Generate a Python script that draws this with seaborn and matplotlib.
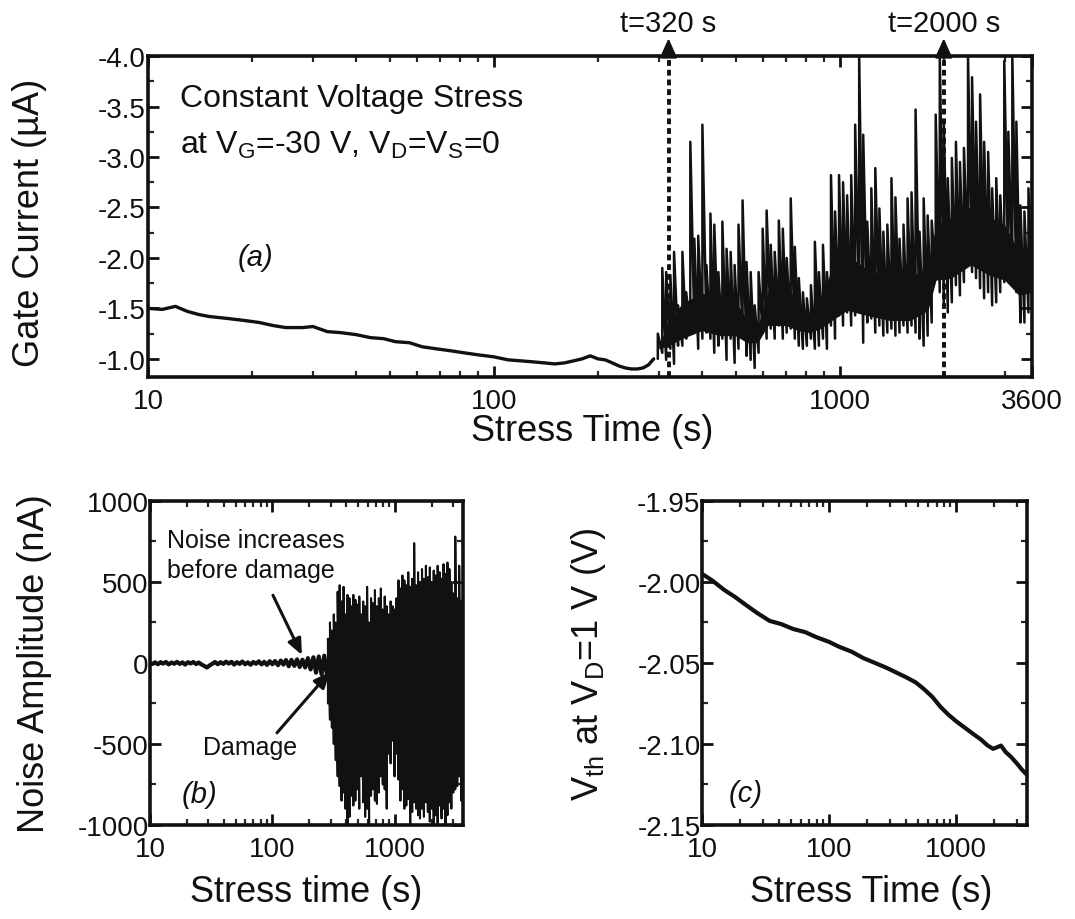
import numpy as np
import pandas as pd
import matplotlib
matplotlib.use("Agg")
import matplotlib.pyplot as plt
import seaborn as sns
from matplotlib.ticker import FixedLocator, LogLocator, NullFormatter, MultipleLocator

# ---------------- data ----------------
# (a) gate current, smooth part before breakdown
a_smooth_t = [10, 11, 12, 13, 14, 15, 17, 19, 21, 23, 25, 28, 30, 33, 36, 40, 44, 48, 52, 57,
              62, 68, 75, 82, 90, 100, 110, 120, 130, 140, 150, 160, 170, 180, 190, 200, 210,
              220, 230, 240, 250, 260, 270, 280, 290]
a_smooth_i = [-1.50, -1.49, -1.52, -1.47, -1.44, -1.42, -1.40, -1.38, -1.36, -1.33, -1.31, -1.31,
              -1.32, -1.27, -1.26, -1.24, -1.21, -1.20, -1.17, -1.16, -1.12, -1.10, -1.08, -1.06,
              -1.04, -1.02, -0.99, -0.98, -0.97, -0.96, -0.95, -0.96, -0.98, -1.00, -1.03, -1.00,
              -0.99, -0.96, -0.93, -0.91, -0.90, -0.90, -0.91, -0.94, -1.00]

# (a) gate current, noisy part: time bins with lower / upper excursion
a_noise_t = [298, 307, 315, 324, 332, 341, 351, 360, 370, 380, 390, 401, 412, 423, 434, 446, 458,
             471, 484, 497, 510, 524, 538, 553, 568, 583, 599, 615, 632, 649, 667, 685, 703, 722,
             742, 762, 783, 804, 826, 848, 871, 895, 919, 944, 970, 996, 1023, 1051, 1080, 1109,
             1139, 1170, 1202, 1235, 1268, 1303, 1338, 1374, 1412, 1450, 1490, 1530, 1572, 1614,
             1658, 1703, 1750, 1797, 1846, 1896, 1948, 2001, 2055, 2111, 2169, 2228, 2288, 2351,
             2415, 2480, 2548, 2617, 2688, 2761, 2837, 2914, 2993, 3075, 3158, 3244, 3333, 3423,
             3516, 3600]
a_noise_high = [-1.25, -1.90, -1.86, -1.83, -2.06, -1.53, -2.06, -1.66, -3.15, -2.19,
                -2.22, -3.32, -1.93, -2.44, -2.33, -1.86, -2.36, -2.09, -2.06, -1.93,
                -2.33, -2.57, -1.96, -1.86, -1.53, -1.86, -2.29, -2.47, -2.13, -2.06,
                -2.37, -2.29, -2.00, -2.59, -2.11, -1.80, -1.66, -1.60, -1.73, -2.16,
                -1.86, -2.13, -1.86, -2.82, -2.46, -2.82, -2.75, -2.62, -2.82, -3.32,
                -4.00, -3.22, -2.36, -2.69, -2.89, -2.49, -2.26, -2.33, -2.79, -2.60,
                -2.19, -2.33, -2.59, -2.65, -3.47, -2.26, -2.59, -2.42, -2.37, -3.42,
                -4.00, -3.35, -2.79, -2.99, -3.15, -2.95, -3.09, -4.00, -3.79, -3.35,
                -3.62, -3.15, -3.05, -2.69, -2.79, -2.62, -3.95, -3.25, -4.00, -3.35,
                -2.52, -2.46, -2.69, -2.79]
a_noise_low = [-1.00, -1.06, -0.99, -1.10, -0.95, -1.13, -1.13, -1.20, -1.26, -1.33,
               -1.10, -1.20, -1.26, -1.20, -1.06, -1.13, -1.20, -0.99, -1.20, -0.96,
               -1.10, -1.26, -1.03, -0.99, -0.91, -1.06, -1.26, -1.20, -1.30, -1.20,
               -1.33, -1.20, -1.26, -1.30, -1.20, -1.13, -1.10, -1.13, -1.20, -1.10,
               -1.13, -1.20, -1.10, -1.33, -1.20, -1.43, -1.33, -1.46, -1.33, -1.43,
               -1.53, -1.16, -1.36, -1.40, -1.26, -1.33, -1.23, -1.26, -1.30, -1.23,
               -1.26, -1.33, -1.26, -1.33, -1.26, -1.20, -1.13, -1.23, -1.36, -1.80,
               -1.66, -1.53, -1.46, -1.56, -1.73, -1.63, -1.76, -1.93, -1.86, -1.80,
               -1.70, -1.60, -1.66, -1.53, -1.56, -1.66, -1.76, -1.80, -1.86, -1.66,
               -1.36, -1.36, -1.46, -1.53]
# (a) dense (solid-looking) core of the noise band
a_core_t = [300, 320, 350, 400, 450, 500, 540, 580, 620, 700, 760, 820, 880, 950, 1050, 1200,
            1400, 1600, 1800, 1900, 2100, 2400, 2700, 3000, 3300, 3600]
a_core_low = [-1.10, -1.13, -1.20, -1.28, -1.23, -1.23, -1.16, -1.16, -1.33, -1.33, -1.28, -1.26,
              -1.30, -1.38, -1.48, -1.43, -1.38, -1.38, -1.48, -1.78, -1.80, -1.93, -1.83, -1.78,
              -1.63, -1.66]
a_core_high = [-1.14, -1.35, -1.55, -1.65, -1.63, -1.57, -1.39, -1.33, -1.67, -1.73, -1.56, -1.43,
               -1.57, -1.90, -2.03, -1.89, -1.81, -1.81, -1.91, -2.33, -2.40, -2.51, -2.41, -2.33,
               -2.06, -2.07]
a_marks_t = [320, 2000]
a_marks_label = ["t=320 s", "t=2000 s"]

# (b) noise amplitude
b_quiet_t = [10, 10.5, 11, 11.6, 12.2, 12.8, 13.5, 14.2, 15, 15.8, 16.6, 17.5, 18.4, 19.4, 20.4,
             21.5, 22.6, 23.8, 25, 26.3, 27.7, 29.2, 30.7, 32.3, 34, 35.8, 37.7, 39.7, 41.8, 44,
             46.3, 48.7, 51.3, 54, 56.8, 59.8, 63, 66.3, 69.8, 73.5, 77.4, 81.5, 85.8, 90.3, 95,
             100, 105, 111, 117, 123, 129, 136, 143, 151, 159, 167, 176, 185, 195, 205, 216, 227,
             239, 252, 265, 279]
b_quiet_v = [0, -6, 4, -8, 5, -4, 6, -9, 3, -5, 7, -6, 4, -10, 5, -3, 6, -7, 3, -9,
             -18, -28, -15, -5, 6, -8, 5, -6, 8, -4, 7, -10, 5, -6, 9, -8, 4, -11, 6, -5,
             10, -9, 7, -12, 11, -8, 12, -14, 15, -10, 18, -20, 19, -18, 22, -25, 20, -28, 30, -40,
             35, -60, 40, -70, 45, -75]
b_noise_t = [284, 295, 306, 317, 329, 341, 354, 367, 381, 395, 410, 426, 442, 458, 476, 493, 512,
             531, 551, 572, 593, 616, 639, 663, 687, 713, 740, 768, 797, 826, 858, 890, 923, 958,
             994, 1031, 1070, 1110, 1152, 1195, 1240, 1286, 1335, 1385, 1437, 1491, 1546, 1604,
             1665, 1727, 1792, 1859, 1929, 2001, 2076, 2154, 2235, 2319, 2406, 2496, 2590, 2687,
             2788, 2892, 3001, 3113, 3230, 3351, 3477, 3600]
b_noise_high = [150, 250, 200, 300, 250, 440, 480, 380, 470, 300,
                420, 400, 350, 420, 390, 360, 410, 300, 380, 350,
                470, 250, 400, 370, 450, 350, 400, 460, 330, 410,
                350, 300, 380, 350, 330, 400, 510, 460, 540, 510,
                480, 560, 470, 520, 740, 480, 560, 500, 580, 520,
                600, 530, 590, 500, 570, 540, 600, 560, 520, 610,
                550, 620, 580, 500, 430, 780, 400, 600, 380, 400]
b_noise_low = [-250, -350, -400, -500, -600, -700, -760, -850, -800, -900,
               -1000, -950, -820, -880, -850, -780, -900, -700, -860, -950,
               -900, -1000, -820, -780, -850, -870, -800, -700, -750, -780,
               -900, -560, -620, -480, -700, -560, -720, -850, -780, -900,
               -880, -840, -1000, -920, -860, -900, -940, -960, -900, -950,
               -860, -920, -980, -900, -1000, -940, -1000, -880, -960, -900,
               -1000, -940, -860, -900, -800, -780, -760, -700, -850, -600]

# (c) threshold voltage
c_t = [10, 12, 15, 18, 22, 27, 34, 42, 52, 65, 79, 100, 120, 150, 186, 230, 283, 340, 408, 480,
       555, 650, 750, 870, 1000, 1170, 1370, 1550, 1770, 1950, 2100, 2250, 2450, 2700, 3000,
       3300, 3600]
c_v = [-1.995, -1.999, -2.005, -2.009, -2.014, -2.019, -2.024, -2.026, -2.029, -2.031, -2.034,
       -2.037, -2.040, -2.043, -2.047, -2.050, -2.053, -2.056, -2.059, -2.062, -2.066, -2.071,
       -2.077, -2.082, -2.086, -2.090, -2.094, -2.097, -2.101, -2.103, -2.102, -2.101, -2.105,
       -2.108, -2.112, -2.116, -2.119]


def zigzag(t, low, high, name):
    """interleave low/high excursions so each bin is drawn as a vertical stroke"""
    tt = np.repeat(np.asarray(t, float), 2)
    vv = np.column_stack([low, high]).ravel()
    return pd.DataFrame({"t": tt, name: vv})


# ---------------- style ----------------
sns.set_theme(style="ticks")
plt.rcParams["font.family"] = ["Liberation Sans", "DejaVu Sans"]
plt.rcParams["mathtext.fontset"] = "custom"
plt.rcParams["mathtext.rm"] = "Liberation Sans"
plt.rcParams["mathtext.it"] = "Liberation Sans:italic"
plt.rcParams["axes.unicode_minus"] = False

INK = "#111111"
TICK = 20
LAB = 26

fig = plt.figure(figsize=(10.75, 9.2), dpi=100)
axA = fig.add_axes([0.1377, 0.5891, 0.8223, 0.3489])
axB = fig.add_axes([0.1395, 0.1022, 0.2912, 0.3522])
axC = fig.add_axes([0.6530, 0.1022, 0.3023, 0.3522])

# ---------------- panel (a) ----------------
sns.lineplot(data=pd.DataFrame({"t": a_smooth_t, "i": a_smooth_i}), x="t", y="i", ax=axA,
             color=INK, lw=2.4, estimator=None, sort=False)
axA.fill_between(a_core_t, a_core_low, a_core_high, color=INK, lw=0)
sns.lineplot(data=zigzag(a_noise_t, a_noise_low, a_noise_high, "i"), x="t", y="i", ax=axA,
             color=INK, lw=1.8, estimator=None, sort=False)
for t, lab in zip(a_marks_t, a_marks_label):
    axA.axvline(t, color=INK, lw=2.8, ls=(0, (1.5, 1.0)), zorder=4)
    axA.annotate("", xy=(t, 1.055), xytext=(t, 1.0), xycoords=("data", "axes fraction"),
                 annotation_clip=False,
                 arrowprops=dict(arrowstyle="-|>,head_length=1.0,head_width=0.45",
                                 color=INK, lw=1.5, shrinkA=0, shrinkB=0))
    axA.annotate(lab, xy=(t, 1.0), xycoords=("data", "axes fraction"),
                 xytext=(0, 24), textcoords="offset points", ha="center", va="center",
                 fontsize=21, color=INK, annotation_clip=False)
axA.set_ylim(-0.82, -4.0)
axA.set_yticks([-4.0, -3.5, -3.0, -2.5, -2.0, -1.5, -1.0],
               ["-4.0", "-3.5", "-3.0", "-2.5", "-2.0", "-1.5", "-1.0"])
axA.yaxis.set_minor_locator(MultipleLocator(0.25))
axA.text(12.4, -3.58, "Constant Voltage Stress", fontsize=23, color=INK, va="center", ha="left")
axA.text(12.4, -3.12, r"at V$_\mathregular{G}$=-30 V, V$_\mathregular{D}$=V$_\mathregular{S}$=0",
         fontsize=23, color=INK, va="center", ha="left")
axA.text(20.5, -2.01, "(a)", fontsize=21, style="italic", color=INK, ha="center", va="center")
axA.set_xlabel("Stress Time (s)", fontsize=LAB, color=INK)
axA.set_ylabel("Gate Current (µA)", fontsize=LAB, color=INK)
axA.xaxis.set_label_coords(0.503, -0.112)
axA.yaxis.set_label_coords(-0.114, 0.483)

# ---------------- panel (b) ----------------
sns.lineplot(data=pd.DataFrame({"t": b_quiet_t, "v": b_quiet_v}), x="t", y="v", ax=axB,
             color=INK, lw=3.0, estimator=None, sort=False)
sns.lineplot(data=zigzag(b_noise_t, b_noise_low, b_noise_high, "v"), x="t", y="v", ax=axB,
             color=INK, lw=1.5, estimator=None, sort=False)
axB.set_ylim(-1000, 1000)
axB.set_yticks([-1000, -500, 0, 500, 1000], ["-1000", "-500", "0", "500", "1000"])
axB.yaxis.set_minor_locator(MultipleLocator(250))
axB.text(13.8, 757, "Noise increases", fontsize=18, color=INK, va="center", ha="left")
axB.text(13.8, 572, "before damage", fontsize=18, color=INK, va="center", ha="left")
axB.annotate("", xy=(174, 49), xytext=(101, 418),
             arrowprops=dict(arrowstyle="-|>,head_length=0.8,head_width=0.35", color=INK, lw=2.2,
                             shrinkA=0, shrinkB=0))
axB.annotate("", xy=(295, -55), xytext=(109, -431),
             arrowprops=dict(arrowstyle="-|>,head_length=0.8,head_width=0.35", color=INK, lw=2.2,
                             shrinkA=0, shrinkB=0))
axB.text(65.5, -517, "Damage", fontsize=18, color=INK, ha="center", va="center")
axB.text(25.6, -810, "(b)", fontsize=21, style="italic", color=INK, ha="center", va="center")
axB.set_xlabel("Stress time (s)", fontsize=LAB, color=INK)
axB.set_ylabel("Noise Amplitude (nA)", fontsize=LAB, color=INK)
axB.xaxis.set_label_coords(0.5, -0.15)
axB.yaxis.set_label_coords(-0.313, 0.5)

# ---------------- panel (c) ----------------
sns.lineplot(data=pd.DataFrame({"t": c_t, "v": c_v}), x="t", y="v", ax=axC,
             color=INK, lw=3.0, estimator=None, sort=False)
axC.set_ylim(-2.15, -1.95)
axC.set_yticks([-2.15, -2.10, -2.05, -2.00, -1.95], ["-2.15", "-2.10", "-2.05", "-2.00", "-1.95"])
axC.yaxis.set_minor_locator(MultipleLocator(0.025))
axC.text(22, -2.13, "(c)", fontsize=21, style="italic", color=INK, ha="center", va="center")
axC.set_xlabel("Stress Time (s)", fontsize=LAB, color=INK)
axC.set_ylabel(r"V$_\mathregular{th}$ at V$_\mathregular{D}$=1 V (V)", fontsize=LAB, color=INK)
axC.xaxis.set_label_coords(0.52, -0.15)
axC.yaxis.set_label_coords(-0.289, 0.5)

# ---------------- common axis styling ----------------
for ax, xt in ((axA, [10, 100, 1000, 3600]), (axB, [10, 100, 1000]), (axC, [10, 100, 1000])):
    ax.set_xscale("log")
    ax.set_xlim(10, 3600)
    ax.xaxis.set_major_locator(FixedLocator(xt))
    ax.set_xticklabels([str(v) for v in xt])
    ax.xaxis.set_minor_locator(LogLocator(base=10, subs=np.arange(2, 10), numticks=30))
    ax.xaxis.set_minor_formatter(NullFormatter())
    for s in ax.spines.values():
        s.set_linewidth(2.6)
        s.set_color(INK)
    ax.tick_params(which="major", direction="in", length=8, width=2.0, top=True, right=True,
                   labelsize=TICK, colors=INK)
    ax.tick_params(which="minor", direction="in", length=4, width=1.6, top=True, right=True)
    ax.tick_params(axis="x", which="major", pad=8)

axA.tick_params(axis="y", which="major", pad=2)
axB.tick_params(axis="y", which="major", pad=1)
axC.tick_params(axis="y", which="major", pad=1)

fig.savefig("out.png", dpi=100, facecolor="white")
